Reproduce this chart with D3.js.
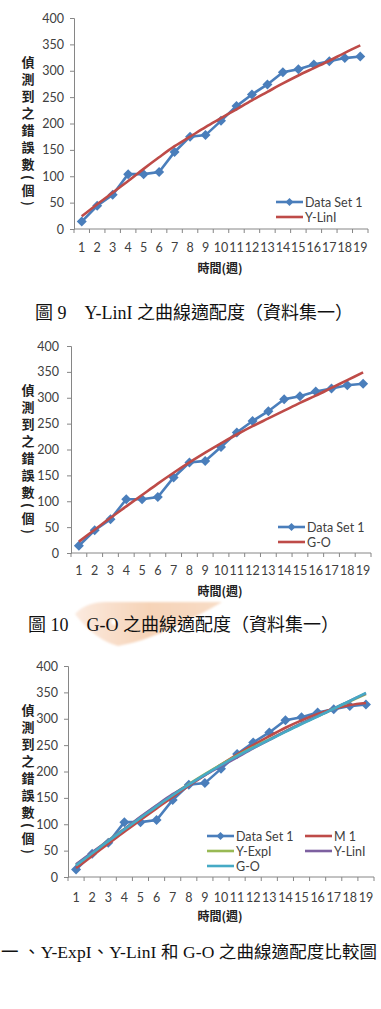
<!DOCTYPE html>
<html>
<head>
<meta charset="utf-8">
<script src="https://cdn.jsdelivr.net/npm/d3@7"></script>
<style>
  body { margin: 0; background: #fff; }
  svg { display: block; }
</style>
</head>
<body>
<svg id="page" width="381" height="1009"></svg>
<script>
// values
const weeks = [1, 2, 3, 4, 5, 6, 7, 8, 9, 10, 11, 12, 13, 14, 15, 16, 17, 18, 19];
const yTicks = [0, 50, 100, 150, 200, 250, 300, 350, 400];
const dataSet1 = [14, 44, 65, 104, 104, 108, 146, 175, 178, 205, 233, 255, 274, 297, 303, 312, 318, 324, 327];
const yLinI = [24, 47, 69, 91, 114, 136, 157, 175, 193, 210, 227, 244, 260, 276, 291, 305, 319, 334, 348];
const gO = [22, 45, 68, 90, 112, 134, 155, 175, 194, 212, 229, 245, 260, 275, 290, 304, 319, 334, 349];
const m1 = [17, 40, 63, 86, 108, 130, 152, 173, 193, 213, 232, 250, 267, 283, 297, 309, 319, 326, 330];
const yExpI = [23, 46, 69, 91, 113, 135, 156, 176, 195, 213, 230, 246, 261, 276, 291, 305, 319, 333, 347];

const yTitle = "偵測到之錯誤數(個)";
const xTitle = "時間(週)";
const captions = [
  "圖 9　Y-LinI 之曲線適配度（資料集一）",
  "圖 10　G-O 之曲線適配度（資料集一）",
  "一 、Y-ExpI、Y-LinI 和 G-O 之曲線適配度比較圖"
];

const colors = {
  data: "#4a7ebb",
  m1: "#be4b48",
  expI: "#98b954",
  linI: "#7d60a0",
  go: "#46aac5"
};

const svg = d3.select("#page");
const tickFont = "Lato, 'Open Sans', sans-serif";
const cjkBold = "'Noto Sans CJK TC', sans-serif";
const serif = "'Liberation Serif', 'Noto Sans CJK TC', serif";

// soft orange watermark behind the 2nd caption
const defs = svg.append("defs");
const grad = defs.append("linearGradient").attr("id", "wm").attr("x1", 0).attr("x2", 1).attr("y1", 0).attr("y2", 0);
grad.append("stop").attr("offset", "0%").attr("stop-color", "#fbeadf");
grad.append("stop").attr("offset", "50%").attr("stop-color", "#f6d3b7");
grad.append("stop").attr("offset", "100%").attr("stop-color", "#f8dcc6");
const blur = defs.append("filter").attr("id", "soft");
blur.append("feGaussianBlur").attr("stdDeviation", 0.8);
svg.append("path")
  .attr("d", "M75,614 Q86,602 106,602 L222,602 Q200,615 172,628 Q142,642 118,646 Q95,640 75,614 Z")
  .attr("fill", "url(#wm)").attr("filter", "url(#soft)");
svg.append("circle").attr("cx", 114).attr("cy", 622).attr("r", 3)
  .attr("fill", "#fff").attr("filter", "url(#soft)");

function drawChart(cfg) {
  const g = svg.append("g");

  const x = d3.scaleBand().domain(weeks).range([cfg.left, cfg.right]);
  const y = d3.scaleLinear().domain([0, 400]).range([cfg.bottom, cfg.top]);
  const cx = (d) => x(d) + x.bandwidth() / 2;

  // y axis
  const yAxis = d3.axisLeft(y).tickValues(yTicks).tickSize(4).tickPadding(5);
  const gy = g.append("g").attr("transform", "translate(" + cfg.left + ",0)").call(yAxis);
  gy.select(".domain").attr("stroke", "#868686");
  gy.selectAll(".tick line").attr("stroke", "#868686");
  gy.selectAll(".tick text")
    .attr("font-family", tickFont).attr("font-size", 12.5).attr("fill", "#404040")
    .attr("dx", cfg.yLabelShift);

  // x axis: ticks on the category boundaries, labels in the middle
  const gx = g.append("g").attr("transform", "translate(0," + cfg.bottom + ")");
  gx.append("line")
    .attr("x1", cfg.left).attr("x2", cfg.right)
    .attr("stroke", "#868686");
  gx.selectAll(".bt").data(weeks.concat(["end"])).join("line")
    .attr("class", "bt")
    .attr("x1", (d) => d === "end" ? cfg.right : x(d))
    .attr("x2", (d) => d === "end" ? cfg.right : x(d))
    .attr("y1", 0).attr("y2", 4)
    .attr("stroke", "#868686");
  gx.selectAll(".lbl").data(weeks).join("text")
    .attr("class", "lbl")
    .attr("x", cx)
    .attr("y", cfg.xLabelY - cfg.bottom)
    .attr("text-anchor", "middle")
    .attr("dominant-baseline", "central")
    .attr("font-family", tickFont).attr("font-size", 12.5).attr("fill", "#404040")
    .text((d) => d);

  // axis titles
  g.append("text")
    .attr("x", 220).attr("y", cfg.xTitleY)
    .attr("text-anchor", "middle").attr("dominant-baseline", "central")
    .attr("font-family", cjkBold).attr("font-weight", "bold").attr("font-size", 12)
    .attr("fill", "#222")
    .text(xTitle);
  g.append("text")
    .attr("x", 28).attr("y", cfg.top + 38)
    .attr("font-family", cjkBold).attr("font-weight", "bold").attr("font-size", 13)
    .attr("fill", "#222")
    .style("writing-mode", "vertical-rl")
    .style("letter-spacing", "4px")
    .text(yTitle);

  // series
  const lineFor = (vals) => d3.line()
    .x((d, i) => cx(weeks[i]))
    .y((d) => y(d))
    .curve(d3.curveCatmullRom.alpha(0.5))(vals);

  g.append("path")
    .attr("d", d3.line().x((d, i) => cx(weeks[i])).y((d) => y(d))(dataSet1))
    .attr("fill", "none").attr("stroke", colors.data).attr("stroke-width", 2.6);
  g.selectAll(".pt").data(dataSet1).join("path")
    .attr("class", "pt")
    .attr("transform", (d, i) => "translate(" + cx(weeks[i]) + "," + y(d) + ")")
    .attr("d", "M0,-5L5,0L0,5L-5,0Z")
    .attr("fill", colors.data);

  cfg.fits.forEach((f) => {
    g.append("path")
      .attr("d", lineFor(f.values))
      .attr("fill", "none").attr("stroke", f.color).attr("stroke-width", 2.6);
  });

  // legend
  const legendItems = [{ name: "Data Set 1", color: colors.data, marker: true }].concat(cfg.fits);
  legendItems.forEach((d, i) => {
    const pos = cfg.legend[i];
    const lg = g.append("g").attr("transform", "translate(" + pos[0] + "," + pos[1] + ")");
    lg.append("line").attr("x1", 0).attr("x2", 27)
      .attr("stroke", d.color).attr("stroke-width", 2.6);
    if (d.marker) {
      lg.append("path").attr("d", "M13.5,-4L17.5,0L13.5,4L9.5,0Z").attr("fill", d.color);
    }
    lg.append("text")
      .attr("x", 29).attr("dominant-baseline", "central")
      .attr("font-family", tickFont).attr("font-size", 12.5).attr("fill", "#404040")
      .text(d.name);
  });

  // caption
  const cap = svg.append("text")
    .attr("x", cfg.capX).attr("y", cfg.capY)
    .attr("dominant-baseline", "central")
    .attr("font-family", serif).attr("font-size", cfg.capSize).attr("fill", "#111")
    .text(cfg.caption);
  if (cfg.capWidth) cap.attr("textLength", cfg.capWidth).attr("lengthAdjust", "spacing");
}

drawChart({
  left: 74, right: 368, top: 18, bottom: 229, yLabelShift: -1,
  xLabelY: 247, xTitleY: 267,
  fits: [{ name: "Y-LinI", color: colors.m1, values: yLinI }],
  legend: [[276, 202], [276, 217]],
  caption: captions[0], capX: 35, capY: 313, capSize: 18
});

drawChart({
  left: 71, right: 371, top: 346, bottom: 553, yLabelShift: -3,
  xLabelY: 570, xTitleY: 590,
  fits: [{ name: "G-O", color: colors.m1, values: gO }],
  legend: [[278, 527], [278, 542]],
  caption: captions[1], capX: 28, capY: 625, capSize: 18
});

drawChart({
  left: 68, right: 374, top: 666, bottom: 877, yLabelShift: -1,
  xLabelY: 897, xTitleY: 915,
  fits: [
    { name: "M 1", color: colors.m1, values: m1 },
    { name: "Y-ExpI", color: colors.expI, values: yExpI },
    { name: "Y-LinI", color: colors.linI, values: yLinI },
    { name: "G-O", color: colors.go, values: gO }
  ],
  legend: [[207, 836], [305, 836], [207, 851], [305, 851], [207, 866]],
  caption: captions[2], capX: 1, capY: 952, capSize: 17.5, capWidth: 376
});
</script>
</body>
</html>
